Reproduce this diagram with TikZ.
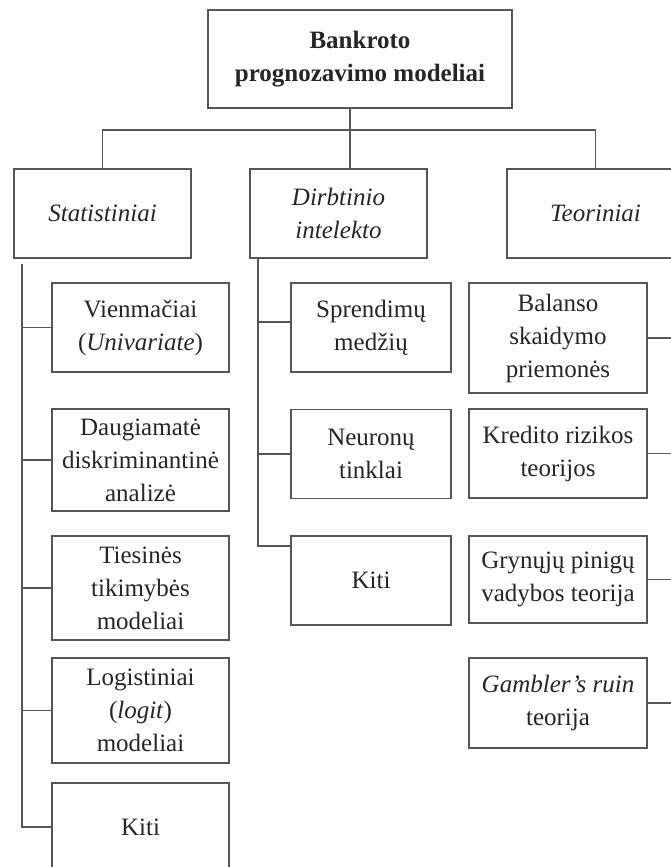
\documentclass[tikz,border=0pt]{standalone}
\usepackage{fontspec}
\setmainfont{Liberation Serif}
\usetikzlibrary{calc}
\definecolor{edge}{HTML}{565656}
\definecolor{ink}{HTML}{262626}
\tikzset{
  box/.style={draw=edge, line width=1.8pt, inner sep=0pt, align=center,
    text=ink, font=\fontsize{25}{33}\selectfont, anchor=center},
  wire/.style={draw=edge, line width=1.8pt},
}
\begin{document}
\begin{tikzpicture}[x=1pt, y=-1pt]
  \useasboundingbox (0,0) rectangle (671,867);
  \clip (0,0) rectangle (671,867);
  \fill[white] (0,0) rectangle (671,867);

  % root
  \node[box, minimum width=304, minimum height=98,
        font=\fontsize{25}{33}\selectfont\bfseries] (top) at (360,59)
        {Bankroto\\prognozavimo modeliai};

  % main groups
  \node[box, minimum width=177, minimum height=89] (stat) at (102.5,213.5)
        {\itshape Statistiniai};
  \node[box, minimum width=177, minimum height=89] (ai) at (338.5,213.5)
        {\itshape Dirbtinio\\\itshape intelekto};
  \node[box, minimum width=177, minimum height=89] (teo) at (595.5,213.5)
        {\itshape Teoriniai};

  % statistical models
  \node[box, minimum width=177, minimum height=89] (vien) at (140.5,327.5)
        {Vienmačiai\\(\textit{Univariate})};
  \node[box, minimum width=177, minimum height=102] (daug) at (140.5,460)
        {Daugiamatė\\diskriminantinė\\analizė};
  \node[box, minimum width=177, minimum height=104] (ties) at (140.5,588)
        {Tiesinės\\tikimybės\\modeliai};
  \node[box, minimum width=177, minimum height=105] (logi) at (140.5,710.5)
        {Logistiniai\\(\textit{logit})\\modeliai};
  \node[box, minimum width=177, minimum height=88] (skiti) at (140.5,827)
        {Kiti};

  % artificial intelligence models
  \node[box, minimum width=160, minimum height=89] (spr) at (371,327.5)
        {Sprendimų\\medžių};
  \node[box, minimum width=160, minimum height=89] (neur) at (371,454)
        {Neuronų\\tinklai};
  \node[box, minimum width=160, minimum height=89] (aikiti) at (371,580.5)
        {Kiti};

  % theoretical models
  \node[box, minimum width=178, minimum height=110] (bal) at (558,338)
        {Balanso\\skaidymo\\priemonės};
  \node[box, minimum width=178, minimum height=89] (kred) at (558,453.5)
        {Kredito rizikos\\teorijos};
  \node[box, minimum width=178, minimum height=87] (gryn) at (558,579.5)
        {Grynųjų pinigų\\vadybos teorija};
  \node[box, minimum width=178, minimum height=90] (gamb) at (558,703)
        {\textit{Gambler’s ruin}\\teorija};

  % top-level bus
  \coordinate (bus) at (350,130);
  \draw[wire] (top.south -| bus) -- (bus);
  \draw[wire] (stat.north) |- (bus) -| (teo.north);
  \draw[wire] (bus) -- (ai.north -| bus);

  % left trunk
  \coordinate (lt) at ($(stat.south west)+(9,5)$);
  \draw[wire] (lt) |- (skiti.west);
  \foreach \n in {vien,daug,ties,logi}
    \draw[wire] (\n.west) -- (\n.west -| lt);

  % middle trunk
  \coordinate (mt) at ($(ai.south west)+(9,0)$);
  \coordinate (aikitiin) at ($(aikiti.west)+(0,-34.5)$);
  \coordinate (sprin) at ($(spr.west)+(0,-5.5)$);
  \draw[wire] (mt) |- (aikitiin);
  \draw[wire] (sprin) -- (sprin -| mt);
  \draw[wire] (neur.west) -- (neur.west -| mt);

  % right trunk
  \coordinate (rt) at ($(teo.south east)+(-9,0)$);
  \draw[wire] (rt) |- (gamb.east);
  \foreach \n in {bal,kred,gryn}
    \draw[wire] (\n.east) -- (\n.east -| rt);
\end{tikzpicture}
\end{document}
